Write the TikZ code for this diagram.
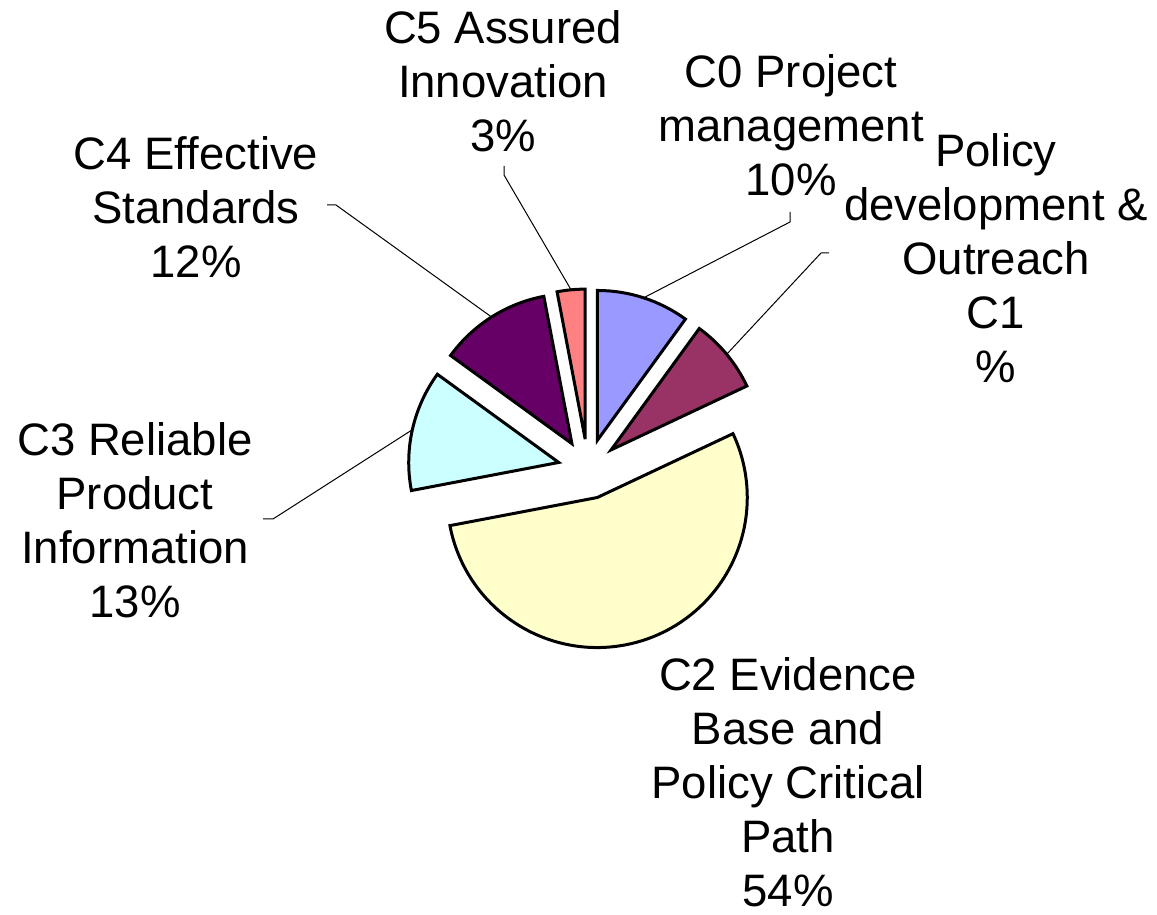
\documentclass[tikz,border=0pt]{standalone}
\usepackage{fontspec}
\setmainfont{Liberation Sans}
\definecolor{cZero}{HTML}{9999FF}
\definecolor{cOne}{HTML}{993366}
\definecolor{cTwo}{HTML}{FFFFCC}
\definecolor{cThree}{HTML}{CCFFFF}
\definecolor{cFour}{HTML}{660066}
\definecolor{cFive}{HTML}{FF8080}
\begin{document}
\begin{tikzpicture}[x=1pt,y=1pt,
  slice/.style={draw=black,line width=3pt,line join=miter},
  lbl/.style={align=center,inner sep=0pt,font=\fontsize{45.5}{54}\selectfont},
  leader/.style={draw=black,line width=1pt}]
\useasboundingbox (0,0) rectangle (1157,914);
\coordinate (O) at (588,445);
% apexes (exploded)
\path (O) ++(72:30pt) coordinate (a0);
\path (O) ++(39.6:30pt) coordinate (a1);
\path (O) ++(-72:30pt) coordinate (a2);
\path (O) ++(167.4:30pt) coordinate (a3);
\path (O) ++(122.4:30pt) coordinate (a4);
\path (O) ++(95.4:30pt) coordinate (a5);
% slices
\draw[slice,fill=cZero] (a0) -- ++(54:150pt) arc[start angle=54,end angle=90,radius=150pt] -- cycle;
\draw[slice,fill=cOne] (a1) -- ++(25.2:150pt) arc[start angle=25.2,end angle=54,radius=150pt] -- cycle;
\draw[slice,fill=cTwo] (a2) -- ++(-169.2:150pt) arc[start angle=-169.2,end angle=25.2,radius=150pt] -- cycle;
\draw[slice,fill=cThree] (a3) -- ++(144:150pt) arc[start angle=144,end angle=190.8,radius=150pt] -- cycle;
\draw[slice,fill=cFour] (a4) -- ++(100.8:150pt) arc[start angle=100.8,end angle=144,radius=150pt] -- cycle;
\draw[slice,fill=cFive] (a5) -- ++(90:150pt) arc[start angle=90,end angle=100.8,radius=150pt] -- cycle;
% arc midpoints
\path (a0) ++(72:150pt) coordinate (m0);
\path (a1) ++(39.6:150pt) coordinate (m1);
\path (a3) ++(167.4:150pt) coordinate (m3);
\path (a4) ++(122.4:150pt) coordinate (m4);
\path (a5) ++(95.4:150pt) coordinate (m5);
% labels
\node[lbl] (l5) at (503,833) {C5 Assured\\Innovation\\3\%};
\node[lbl] (l0) at (791,789) {C0 Project\\management\\10\%};
\node[lbl] (l1) at (996,656) {Policy\\development \&\\Outreach\\C1\\\%};
\node[lbl] (l4) at (196,707) {C4 Effective\\Standards\\12\%};
\node[lbl] (l3) at (135,394) {C3 Reliable\\Product\\Information\\13\%};
\node[lbl] (l2) at (788,132) {C2 Evidence\\Base and\\Policy Critical\\Path\\54\%};
% leader start points
\coordinate (s5) at (504,748);
\coordinate (s4) at (327,709);
\coordinate (s3) at (263,395);
\coordinate (s0) at (790,702);
\coordinate (s1) at (829,661);
\draw[leader] (s5) -- ++(0,-9) -- (m5);
\draw[leader] (s4) -- ++(9,0) -- (m4);
\draw[leader] (s3) -- ++(10,0) -- (m3);
\draw[leader] (s0) -- ++(0,-10) -- (m0);
\draw[leader] (s1) -- ++(-8,0) -- (m1);
\end{tikzpicture}
\end{document}
